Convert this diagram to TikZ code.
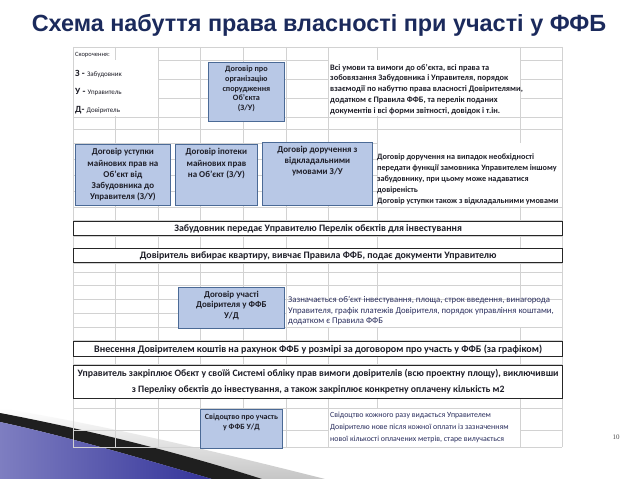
\documentclass[tikz,border=0pt]{standalone}
\usepackage{fontspec}
\setmainfont{Carlito}
\newfontfamily\titlefont{Liberation Sans}
\newfontfamily\numfont{Liberation Serif}
\usetikzlibrary{calc}
\definecolor{boxfill}{HTML}{B8C8E6}
\definecolor{boxline}{HTML}{4B6A96}
\definecolor{gridc}{HTML}{D2D2D2}
\definecolor{titlec}{HTML}{1B2A5C}
\definecolor{txt}{HTML}{1E1E28}
\definecolor{txtb}{HTML}{2B2F5E}
\tikzset{
  bluebox/.style={draw=boxline, fill=boxfill, line width=0.8bp, anchor=north west, inner sep=0},
  barbox/.style={draw=black!85, fill=white, line width=1.2bp, anchor=north west, inner sep=0, align=center, text=txt,
     minimum width=489bp},
  boxtext/.style={font=\bfseries\fontsize{9}{11.2}\selectfont, align=center, text=txt, inner sep=0, anchor=north},
  blocktext/.style={align=left, text=txt, inner sep=0, anchor=north west},
  cover/.style={fill=white, draw=none}
}
\begin{document}
\begin{tikzpicture}[x=1bp,y=-1bp]
\useasboundingbox (0,0) rectangle (638,479);
\fill[white] (0,0) rectangle (638,479);
% decoration bottom-left
\shade[top color=white, bottom color=gray!45] (0,408) .. controls (110,426) and (230,455) .. (325,479) -- (0,479) -- cycle;
\fill[black!88] (0,413) .. controls (100,432) and (190,456) .. (262,479) -- (212,479) .. controls (150,461) and (70,437) .. (0,422) -- cycle;
\shade[left color=blue!35!gray!75, right color=blue!50!black!80] (0,422) .. controls (70,437) and (150,461) .. (212,479) -- (0,479) -- cycle;
% title
\node[font=\titlefont\bfseries\fontsize{23.5}{27}\selectfont, text=titlec, anchor=base, inner sep=0] (title) at (319,32) {Схема набуття права власності при участі у ФФБ};
% grid
\foreach \x in {73,115,158,200,243,286,328,377,520,562}
  \draw[gridc, line width=0.6bp] (\x,47) -- (\x,447);
\foreach \y in {47,60,79,98,117,129,143,159,175,191,207,220,236,248,263,272,285,299,313,327,340,356,364,381,397,408,430,447}
  \draw[gridc, line width=0.6bp] (73,\y) -- (562,\y);
% white covers for text areas
\fill[cover] (73.5,60.5) rectangle (157.5,116.5);
\fill[cover] (328.5,60.5) rectangle (519.5,116.5);
\fill[cover] (377.5,143.5) rectangle (561.5,206.5);
\fill[cover] (286.5,299.5) rectangle (561.5,326.5);
\fill[cover] (328.5,408.5) rectangle (519.5,446.5);
% legend
\node[font=\fontsize{6.5}{7}\selectfont, text=txt, anchor=west, inner sep=0] (leg0) at (75,54.5) {Скорочення:};
\node[text=txt, anchor=west, inner sep=0] (leg1) at (75,74) {{\bfseries\fontsize{9.5}{10}\selectfont З -} {\fontsize{7}{8}\selectfont Забудовник}};
\node[text=txt, anchor=west, inner sep=0] (leg2) at (75,92) {{\bfseries\fontsize{9.5}{10}\selectfont У -} {\fontsize{7}{8}\selectfont Управитель}};
\node[text=txt, anchor=west, inner sep=0] (leg3) at (75,110) {{\bfseries\fontsize{9.5}{10}\selectfont Д-} {\fontsize{7}{8}\selectfont Довіритель}};
% box 1
\node[bluebox, minimum width=76bp, minimum height=59bp] (b1) at (208,62) {};
\node[boxtext, font=\bfseries\fontsize{8.2}{9.7}\selectfont] (b1t) at ($(b1.north)+(0,4)$) {Договір про\\організацію\\спорудження\\Об’єкта\\(З/У)};
\node[blocktext, font=\bfseries\fontsize{8.4}{10.75}\selectfont] (t1) at (330,64) {Всі умови та вимоги до об’єкта, всі права та\\зобовязання Забудовника і Управителя, порядок\\взаємодії по набуттю права власності Довірителями,\\додатком є Правила ФФБ, та перелік поданих\\документів і всі форми звітності, довідок і т.ін.};
% boxes 2-4
\node[bluebox, minimum width=95bp, minimum height=61bp] (b2) at (75,144) {};
\node[boxtext] (b2t) at ($(b2.north)+(0,4.5)$) {Договір уступки\\майнових прав на\\Об’єкт від\\Забудовника до\\Управителя (З/У)};
\node[bluebox, minimum width=82bp, minimum height=61bp] (b3) at (175,144) {};
\node[boxtext] (b3t) at ($(b3.north)+(0,4.5)$) {Договір іпотеки\\майнових прав\\на Об’єкт (З/У)};
\node[bluebox, minimum width=110bp, minimum height=63bp] (b4) at (262,142) {};
\node[boxtext, font=\bfseries\fontsize{9}{10.6}\selectfont] (b4t) at ($(b4.north)+(0,4.5)$) {Договір доручення з\\відкладальними\\умовами З/У};
\node[blocktext, font=\bfseries\fontsize{8.2}{10.9}\selectfont] (t2) at (377,154) {Договір доручення на випадок необхідності\\передати функції замовника Управителем іншому\\забудовнику, при цьому може надаватися\\довіреність\\Договір уступки також з відкладальними умовами};
% bars
\node[barbox, minimum height=14bp, font=\bfseries\fontsize{9.9}{10}\selectfont] (bar1) at (73,221) {Забудовник передає Управителю Перелік обєктів для інвестування};
\node[barbox, minimum height=14bp, font=\bfseries\fontsize{9.9}{10}\selectfont] (bar2) at (73,248) {Довіритель вибирає квартиру, вивчає Правила ФФБ, подає документи Управителю};
% box 5
\node[bluebox, minimum width=106bp, minimum height=41bp] (b5) at (178,287) {};
\node[boxtext, font=\bfseries\fontsize{9}{10.5}\selectfont] (b5t) at ($(b5.north)+(0,4)$) {Договір участі\\Довірителя у ФФБ\\У/Д};
\node[blocktext, text=txtb, font=\fontsize{8.8}{10.8}\selectfont] (t3) at (288,296) {Зазначається об’єкт інвестування, площа, строк введення, винагорода\\Управителя, графік платежів Довірителя, порядок управління коштами,\\додатком є Правила ФФБ};
% bars 3-4
\node[barbox, minimum height=15bp, font=\bfseries\fontsize{10.1}{10}\selectfont] (bar3) at (73,341) {Внесення Довірителем коштів на рахунок ФФБ у розмірі за договором про участь у ФФБ (за графіком)};
\node[barbox, minimum height=33bp, font=\bfseries\fontsize{9.8}{15.5}\selectfont] (bar4) at (73,364.5) {Управитель закріплює Обєкт у своїй Системі обліку прав вимоги довірителів (всю проектну площу), виключивши\\з Переліку обєктів до інвестування, а також закріплює конкретну оплачену кількість м2};
% box 6
\node[bluebox, minimum width=82bp, minimum height=39bp] (b6) at (200,409) {};
\node[boxtext, font=\bfseries\fontsize{8}{10}\selectfont] (b6t) at ($(b6.north)+(0,4.5)$) {Свідоцтво про участь\\у ФФБ У/Д};
\node[blocktext, text=txtb, font=\fontsize{7.9}{12}\selectfont] (t4) at (330,412) {Свідоцтво кожного разу видається Управителем\\Довірителю нове після кожної оплати із зазначенням\\нової кількості оплачених метрів, старе вилучається};
% page number
\node[font=\numfont\fontsize{7}{8}\selectfont, text=black!70, inner sep=0] (pg) at (616,437) {10};
\end{tikzpicture}
\end{document}
